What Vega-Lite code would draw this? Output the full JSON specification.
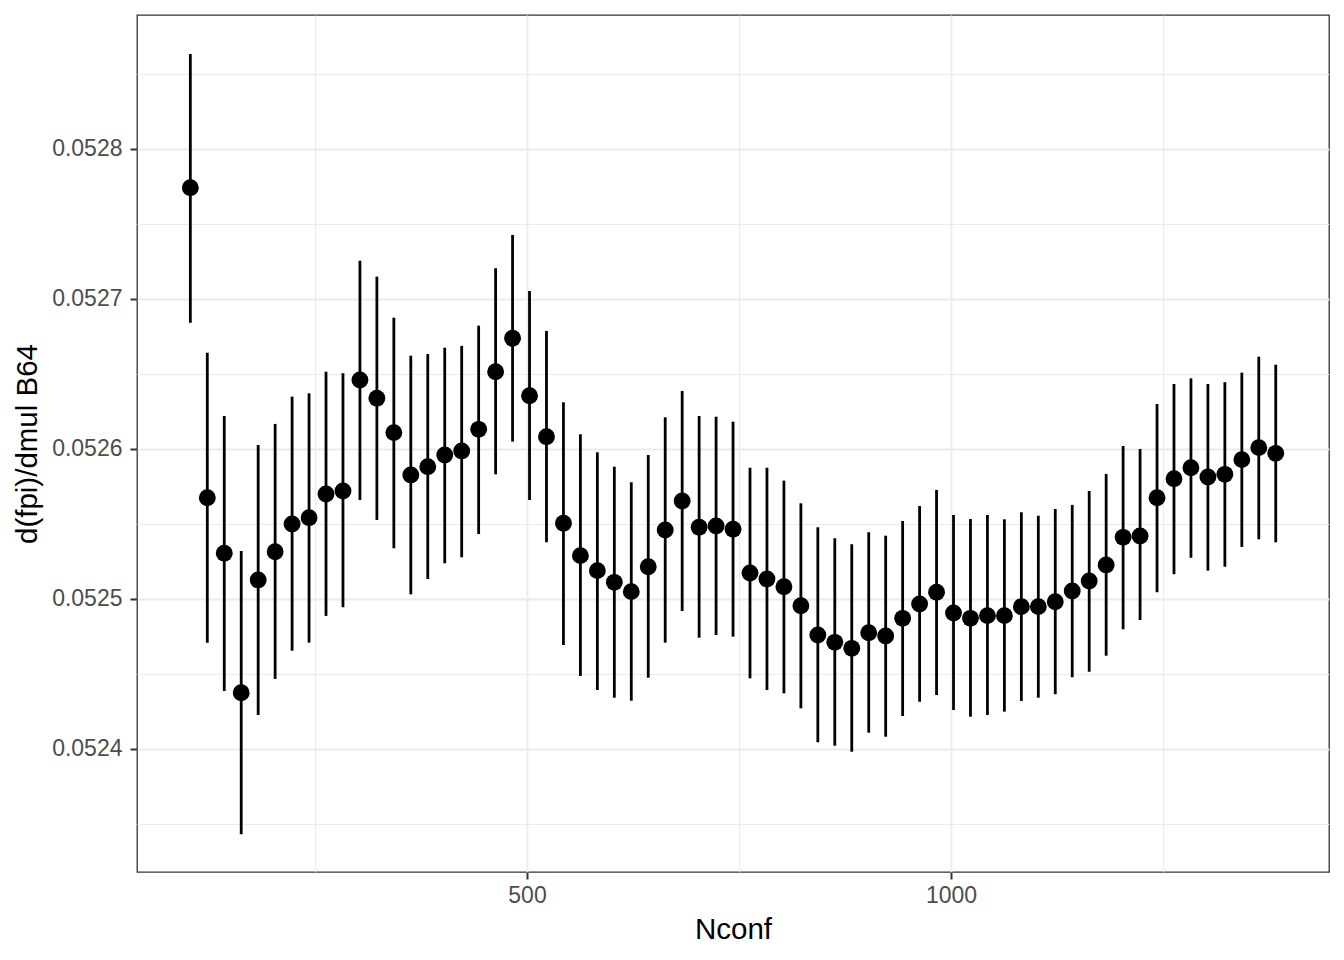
{
  "$schema": "https://vega.github.io/schema/vega-lite/v6.json",
  "width": 1192,
  "height": 857,
  "autosize": {"type": "none"},
  "padding": {"left": 137, "top": 15, "right": 15, "bottom": 88},
  "background": "white",
  "config": {
    "font": "Liberation Sans",
    "view": {"stroke": "#333333", "strokeWidth": 1.3},
    "axis": {
      "labelFont": "Liberation Sans",
      "titleFont": "Liberation Sans",
      "labelFontSize": 23,
      "labelColor": "#4d4d4d",
      "titleFontSize": 29.5,
      "titleFontWeight": "normal",
      "titleColor": "#000000",
      "tickColor": "#333333",
      "tickWidth": 2,
      "tickSize": 7,
      "domain": false,
      "gridColor": "#ebebeb"
    }
  },
  "data": {
    "values": [
      {"Nconf": 103, "value": 0.0527742, "lower": 0.0526842, "upper": 0.0528633},
      {"Nconf": 123, "value": 0.0525675, "lower": 0.0524709, "upper": 0.0526642},
      {"Nconf": 143, "value": 0.0525305, "lower": 0.0524387, "upper": 0.0526220},
      {"Nconf": 163, "value": 0.0524375, "lower": 0.0523431, "upper": 0.0525320},
      {"Nconf": 183, "value": 0.0525127, "lower": 0.0524227, "upper": 0.0526027},
      {"Nconf": 203, "value": 0.0525315, "lower": 0.0524467, "upper": 0.0526167},
      {"Nconf": 223, "value": 0.0525500, "lower": 0.0524655, "upper": 0.0526349},
      {"Nconf": 243, "value": 0.0525542, "lower": 0.0524709, "upper": 0.0526371},
      {"Nconf": 263, "value": 0.0525700, "lower": 0.0524887, "upper": 0.0526515},
      {"Nconf": 283, "value": 0.0525720, "lower": 0.0524945, "upper": 0.0526505},
      {"Nconf": 303, "value": 0.0526460, "lower": 0.0525660, "upper": 0.0527255},
      {"Nconf": 323, "value": 0.0526338, "lower": 0.0525527, "upper": 0.0527149},
      {"Nconf": 343, "value": 0.0526109, "lower": 0.0525338, "upper": 0.0526875},
      {"Nconf": 363, "value": 0.0525827, "lower": 0.0525031, "upper": 0.0526622},
      {"Nconf": 383, "value": 0.0525882, "lower": 0.0525133, "upper": 0.0526633},
      {"Nconf": 403, "value": 0.0525960, "lower": 0.0525238, "upper": 0.0526675},
      {"Nconf": 423, "value": 0.0525987, "lower": 0.0525278, "upper": 0.0526687},
      {"Nconf": 443, "value": 0.0526131, "lower": 0.0525433, "upper": 0.0526822},
      {"Nconf": 463, "value": 0.0526515, "lower": 0.0525831, "upper": 0.0527205},
      {"Nconf": 483, "value": 0.0526738, "lower": 0.0526049, "upper": 0.0527427},
      {"Nconf": 503, "value": 0.0526355, "lower": 0.0525660, "upper": 0.0527053},
      {"Nconf": 523, "value": 0.0526082, "lower": 0.0525378, "upper": 0.0526787},
      {"Nconf": 543, "value": 0.0525505, "lower": 0.0524693, "upper": 0.0526311},
      {"Nconf": 563, "value": 0.0525289, "lower": 0.0524487, "upper": 0.0526098},
      {"Nconf": 583, "value": 0.0525189, "lower": 0.0524393, "upper": 0.0525978},
      {"Nconf": 603, "value": 0.0525111, "lower": 0.0524342, "upper": 0.0525882},
      {"Nconf": 623, "value": 0.0525049, "lower": 0.0524322, "upper": 0.0525778},
      {"Nconf": 643, "value": 0.0525215, "lower": 0.0524475, "upper": 0.0525960},
      {"Nconf": 663, "value": 0.0525460, "lower": 0.0524709, "upper": 0.0526211},
      {"Nconf": 683, "value": 0.0525653, "lower": 0.0524920, "upper": 0.0526387},
      {"Nconf": 703, "value": 0.0525478, "lower": 0.0524742, "upper": 0.0526220},
      {"Nconf": 723, "value": 0.0525487, "lower": 0.0524760, "upper": 0.0526215},
      {"Nconf": 743, "value": 0.0525465, "lower": 0.0524749, "upper": 0.0526182},
      {"Nconf": 763, "value": 0.0525173, "lower": 0.0524471, "upper": 0.0525875},
      {"Nconf": 783, "value": 0.0525133, "lower": 0.0524393, "upper": 0.0525875},
      {"Nconf": 803, "value": 0.0525082, "lower": 0.0524371, "upper": 0.0525789},
      {"Nconf": 823, "value": 0.0524955, "lower": 0.0524271, "upper": 0.0525638},
      {"Nconf": 843, "value": 0.0524760, "lower": 0.0524045, "upper": 0.0525478},
      {"Nconf": 863, "value": 0.0524711, "lower": 0.0524022, "upper": 0.0525405},
      {"Nconf": 883, "value": 0.0524671, "lower": 0.0523982, "upper": 0.0525365},
      {"Nconf": 903, "value": 0.0524775, "lower": 0.0524109, "upper": 0.0525445},
      {"Nconf": 923, "value": 0.0524753, "lower": 0.0524082, "upper": 0.0525422},
      {"Nconf": 943, "value": 0.0524871, "lower": 0.0524220, "upper": 0.0525520},
      {"Nconf": 963, "value": 0.0524967, "lower": 0.0524315, "upper": 0.0525620},
      {"Nconf": 983, "value": 0.0525045, "lower": 0.0524360, "upper": 0.0525727},
      {"Nconf": 1003, "value": 0.0524907, "lower": 0.0524260, "upper": 0.0525560},
      {"Nconf": 1023, "value": 0.0524871, "lower": 0.0524215, "upper": 0.0525533},
      {"Nconf": 1043, "value": 0.0524889, "lower": 0.0524227, "upper": 0.0525560},
      {"Nconf": 1063, "value": 0.0524889, "lower": 0.0524249, "upper": 0.0525531},
      {"Nconf": 1083, "value": 0.0524949, "lower": 0.0524320, "upper": 0.0525578},
      {"Nconf": 1103, "value": 0.0524949, "lower": 0.0524342, "upper": 0.0525555},
      {"Nconf": 1123, "value": 0.0524982, "lower": 0.0524365, "upper": 0.0525600},
      {"Nconf": 1143, "value": 0.0525053, "lower": 0.0524478, "upper": 0.0525627},
      {"Nconf": 1163, "value": 0.0525120, "lower": 0.0524515, "upper": 0.0525720},
      {"Nconf": 1183, "value": 0.0525227, "lower": 0.0524622, "upper": 0.0525833},
      {"Nconf": 1203, "value": 0.0525411, "lower": 0.0524798, "upper": 0.0526020},
      {"Nconf": 1223, "value": 0.0525420, "lower": 0.0524860, "upper": 0.0526000},
      {"Nconf": 1243, "value": 0.0525675, "lower": 0.0525045, "upper": 0.0526300},
      {"Nconf": 1263, "value": 0.0525802, "lower": 0.0525165, "upper": 0.0526433},
      {"Nconf": 1283, "value": 0.0525875, "lower": 0.0525275, "upper": 0.0526471},
      {"Nconf": 1303, "value": 0.0525813, "lower": 0.0525189, "upper": 0.0526433},
      {"Nconf": 1323, "value": 0.0525831, "lower": 0.0525215, "upper": 0.0526445},
      {"Nconf": 1343, "value": 0.0525929, "lower": 0.0525347, "upper": 0.0526509},
      {"Nconf": 1363, "value": 0.0526009, "lower": 0.0525398, "upper": 0.0526615},
      {"Nconf": 1383, "value": 0.0525971, "lower": 0.0525378, "upper": 0.0526562}
    ]
  },
  "layer": [
    {
      "mark": {"type": "rule", "color": "#000000", "strokeWidth": 2.8},
      "encoding": {
        "x": {
          "field": "Nconf", "type": "quantitative",
          "scale": {"domain": [40.1, 1445.8], "nice": false, "zero": false},
          "axis": {
            "title": "Nconf",
            "values": [250, 500, 750, 1000, 1250],
            "format": "d",
            "labelExpr": "datum.value % 500 === 0 ? datum.label : ''",
            "tickOpacity": {"condition": {"test": "datum.value % 500 === 0", "value": 1}, "value": 0},
            "gridWidth": {"condition": {"test": "datum.value % 500 === 0", "value": 1.8}, "value": 1.1},
            "labelPadding": 5,
            "titlePadding": 8
          }
        },
        "y": {
          "field": "lower", "type": "quantitative",
          "scale": {"domain": [0.052318, 0.0528893], "nice": false, "zero": false},
          "axis": {
            "title": "d(fpi)/dmul B64",
            "values": [0.05235, 0.0524, 0.05245, 0.0525, 0.05255, 0.0526, 0.05265, 0.0527, 0.05275, 0.0528, 0.05285],
            "labelExpr": "abs(datum.value*10000 - round(datum.value*10000)) < 0.01 ? format(datum.value, '.4f') : ''",
            "tickOpacity": {"condition": {"test": "abs(datum.value*10000 - round(datum.value*10000)) < 0.01", "value": 1}, "value": 0},
            "gridWidth": {"condition": {"test": "abs(datum.value*10000 - round(datum.value*10000)) < 0.01", "value": 1.8}, "value": 1.1},
            "labelPadding": 8,
            "titlePadding": 9
          }
        },
        "y2": {"field": "upper"}
      }
    },
    {
      "mark": {"type": "point", "filled": true, "color": "#000000", "opacity": 1, "size": 285},
      "encoding": {
        "x": {"field": "Nconf", "type": "quantitative"},
        "y": {"field": "value", "type": "quantitative"}
      }
    }
  ]
}
